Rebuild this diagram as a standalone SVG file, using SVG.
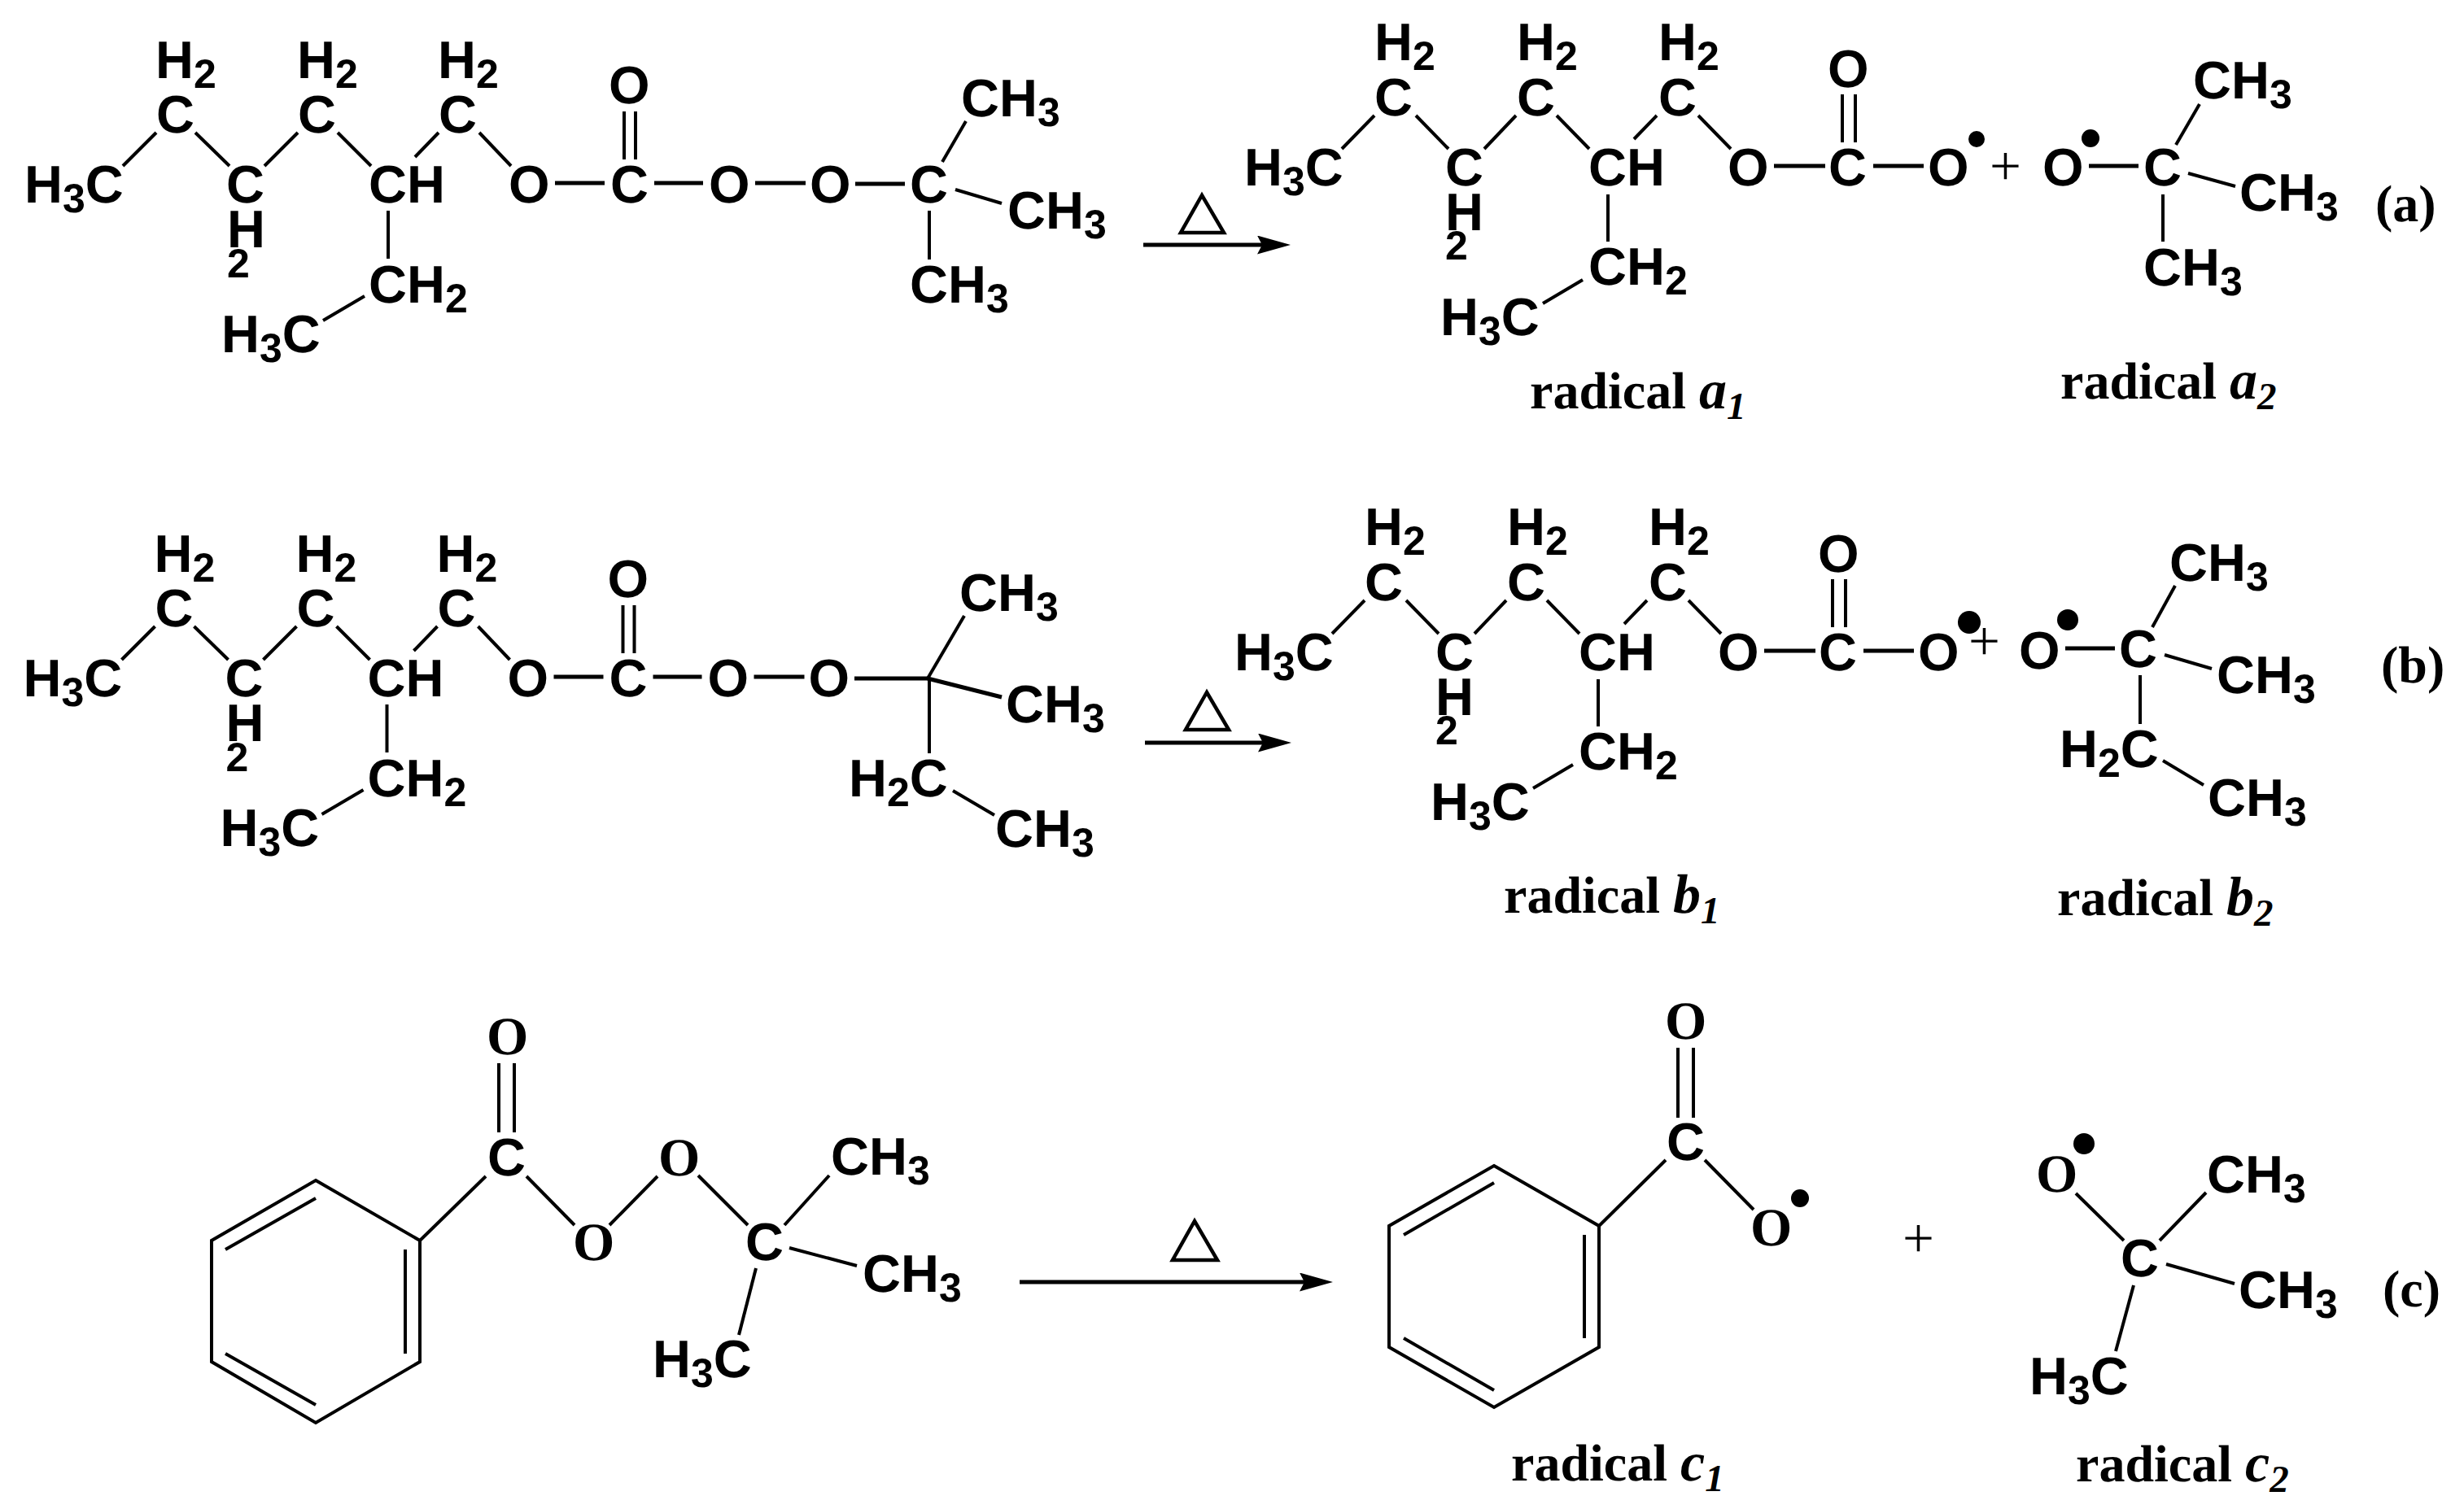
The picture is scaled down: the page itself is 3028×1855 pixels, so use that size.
<svg xmlns="http://www.w3.org/2000/svg" width="3028" height="1855" viewBox="0 0 3028 1855">
<style>
text{fill:#000;text-rendering:geometricPrecision}
.l{font:bold 65px "Liberation Sans",Arial,sans-serif}
.s{font-size:50px}
.o{font:bold 66px "Liberation Serif","Times New Roman",serif}
.r{font:bold 64px "Liberation Serif","Times New Roman",serif}
.i{font-style:italic;font-size:68px}
.n{font-style:italic;font-size:47px}
.p{font:69px "Liberation Serif","Times New Roman",serif}
.c{font:bold 64px "Liberation Serif","Times New Roman",serif}
line,polygon.ring{stroke:#000;stroke-width:4;fill:none}
line.t{stroke-width:5}
line.a{stroke-width:5;marker-end:url(#h)}
polygon.d{stroke:#000;stroke-width:4.5;fill:none}
circle{fill:#000}
</style>
<defs>
<marker id="h" markerUnits="userSpaceOnUse" viewBox="0 0 41 23" refX="6" refY="11.5" markerWidth="41" markerHeight="23" orient="auto"><path d="M0,0L41,11.5L0,23L6,11.5Z" fill="#000"/></marker>
</defs>
<rect width="3028" height="1855" fill="#fff"/>

<g id="connectors">
  <g id="bonds-a-reactant">
    <line x1="151" y1="204" x2="192" y2="163"/><line x1="240" y1="163" x2="282" y2="204"/><line x1="325" y1="204" x2="366" y2="163"/><line x1="415" y1="163" x2="456" y2="204"/><line x1="510" y1="193" x2="539" y2="163"/><line x1="589" y1="163" x2="628" y2="204"/>
    <line x1="477" y1="259" x2="477" y2="318"/><line x1="448" y1="364" x2="397" y2="394"/>
    <line class="t" x1="682" y1="225" x2="743" y2="225"/><line x1="767" y1="137" x2="767" y2="196"/><line x1="781" y1="137" x2="781" y2="196"/><line class="t" x1="804" y1="225" x2="864" y2="225"/><line class="t" x1="928" y1="225" x2="990" y2="225"/>
    <line class="t" x1="1051" y1="226" x2="1112" y2="226"/><line x1="1158" y1="199" x2="1187" y2="149"/><line x1="1174" y1="233" x2="1231" y2="250"/><line x1="1142" y1="259" x2="1142" y2="319"/>
  </g>
  <g id="bonds-b-reactant">
    <g transform="translate(-1.5 607)">
    <line x1="151" y1="204" x2="192" y2="163"/><line x1="240" y1="163" x2="282" y2="204"/><line x1="325" y1="204" x2="366" y2="163"/><line x1="415" y1="163" x2="456" y2="204"/><line x1="510" y1="193" x2="539" y2="163"/><line x1="589" y1="163" x2="628" y2="204"/>
    <line x1="477" y1="259" x2="477" y2="318"/><line x1="448" y1="364" x2="397" y2="394"/>
    <line class="t" x1="682" y1="225" x2="743" y2="225"/><line x1="767" y1="137" x2="767" y2="196"/><line x1="781" y1="137" x2="781" y2="196"/><line class="t" x1="804" y1="225" x2="864" y2="225"/><line class="t" x1="928" y1="225" x2="990" y2="225"/>
    </g>
    <line class="t" x1="1050" y1="834" x2="1141" y2="834"/><line x1="1140" y1="834" x2="1185" y2="757"/><line class="t" x1="1140" y1="834" x2="1231" y2="857"/><line x1="1142" y1="834" x2="1142" y2="926"/><line x1="1171" y1="972" x2="1222" y2="1002"/>
  </g>
  <g id="bonds-a1">
    <line x1="1649" y1="183" x2="1689" y2="142"/><line x1="1740" y1="142" x2="1780" y2="183"/><line x1="1824" y1="183" x2="1863" y2="142"/><line x1="1913" y1="142" x2="1953" y2="183"/><line x1="2008" y1="171" x2="2036" y2="142"/><line x1="2087" y1="142" x2="2127" y2="183"/>
    <line x1="1976" y1="239" x2="1976" y2="297"/><line x1="1945" y1="344" x2="1896" y2="373"/>
    <line class="t" x1="2180" y1="204" x2="2243" y2="204"/><line x1="2264" y1="116" x2="2264" y2="175"/><line x1="2280" y1="116" x2="2280" y2="175"/><line class="t" x1="2302" y1="204" x2="2364" y2="204"/>
  </g>
  <g id="bonds-a2">
    <line class="t" x1="2567" y1="204" x2="2628" y2="204"/><line x1="2674" y1="178" x2="2703" y2="128"/><line x1="2689" y1="213" x2="2747" y2="229"/><line x1="2658" y1="239" x2="2658" y2="297"/>
  </g>
  <g id="bonds-b1" transform="translate(-12 596)">
    <line x1="1649" y1="183" x2="1689" y2="142"/><line x1="1740" y1="142" x2="1780" y2="183"/><line x1="1824" y1="183" x2="1863" y2="142"/><line x1="1913" y1="142" x2="1953" y2="183"/><line x1="2008" y1="171" x2="2036" y2="142"/><line x1="2087" y1="142" x2="2127" y2="183"/>
    <line x1="1976" y1="239" x2="1976" y2="297"/><line x1="1945" y1="344" x2="1896" y2="373"/>
    <line class="t" x1="2180" y1="204" x2="2243" y2="204"/><line x1="2264" y1="116" x2="2264" y2="175"/><line x1="2280" y1="116" x2="2280" y2="175"/><line class="t" x1="2302" y1="204" x2="2364" y2="204"/>
  </g>
  <g id="bonds-b2">
    <line class="t" x1="2538" y1="797" x2="2599" y2="797"/><line x1="2645" y1="771" x2="2673" y2="720"/><line x1="2660" y1="805" x2="2718" y2="822"/><line x1="2630" y1="830" x2="2630" y2="890"/><line x1="2658" y1="935" x2="2708" y2="965"/>
  </g>
  <g id="bonds-c-reactant">
    <polygon class="ring" points="388,1451 516,1525 516,1674 388,1749 260,1674 260,1525"/>
    <line x1="498" y1="1536" x2="498" y2="1664"/><line x1="388" y1="1473" x2="277" y2="1536"/><line x1="277" y1="1664" x2="388" y2="1727"/>
    <line x1="516" y1="1525" x2="597" y2="1446"/><line x1="613" y1="1307" x2="613" y2="1392"/><line x1="632" y1="1307" x2="632" y2="1392"/>
    <line x1="647" y1="1446" x2="706" y2="1506"/><line x1="749" y1="1506" x2="808" y2="1446"/><line x1="858" y1="1445" x2="919" y2="1506"/>
    <line x1="964" y1="1506" x2="1019" y2="1445"/><line x1="970" y1="1534" x2="1053" y2="1556"/><line x1="929" y1="1559" x2="908" y2="1641"/>
  </g>
  <g id="bonds-c1">
    <polygon class="ring" points="1836,1433 1965,1507 1965,1656 1836,1730 1707,1656 1707,1507"/>
    <line x1="1947" y1="1518" x2="1947" y2="1645"/><line x1="1836" y1="1454" x2="1725" y2="1518"/><line x1="1725" y1="1645" x2="1836" y2="1709"/>
    <line x1="1965" y1="1507" x2="2047" y2="1426"/><line x1="2062" y1="1288" x2="2062" y2="1374"/><line x1="2081" y1="1288" x2="2081" y2="1374"/><line x1="2095" y1="1426" x2="2155" y2="1487"/>
  </g>
  <g id="bonds-c2">
    <line x1="2551" y1="1467" x2="2610" y2="1525"/><line x1="2654" y1="1525" x2="2711" y2="1466"/><line x1="2662" y1="1554" x2="2746" y2="1578"/><line x1="2622" y1="1580" x2="2600" y2="1661"/>
  </g>
  <g id="arrows">
    <line class="a" x1="1405" y1="301" x2="1551" y2="301"/><polygon class="d" points="1477,240 1451,286 1504,286"/>
    <line class="a" x1="1407" y1="913" x2="1552" y2="913"/><polygon class="d" points="1483,851 1457,897 1510,897"/>
    <line class="a" x1="1253" y1="1576" x2="1603" y2="1576"/><polygon class="d" points="1468,1501 1441,1549 1496,1549"/>
  </g>
</g>

<g id="reactant-a">
  <text class="l" x="191" y="96">H<tspan class="s" dy="12">2</tspan></text>
  <text class="l" x="365" y="96">H<tspan class="s" dy="12">2</tspan></text>
  <text class="l" x="538" y="96">H<tspan class="s" dy="12">2</tspan></text>
  <text class="l" x="192" y="163">C</text><text class="l" x="366" y="163">C</text><text class="l" x="539" y="163">C</text>
  <text class="l" x="30" y="249">H<tspan class="s" dy="12">3</tspan><tspan dy="-12">C</tspan></text>
  <text class="l" x="278" y="249">C</text><text class="l" x="279" y="304">H</text><text class="l s" x="279" y="341">2</text>
  <text class="l" x="453" y="249">CH</text>
  <text class="l" x="453" y="372">CH<tspan class="s" dy="12">2</tspan></text>
  <text class="l" x="272" y="433">H<tspan class="s" dy="12">3</tspan><tspan dy="-12">C</tspan></text>
  <text class="l" x="625" y="249">O</text><text class="l" x="750" y="249">C</text><text class="l" x="748" y="127">O</text><text class="l" x="871" y="249">O</text><text class="l" x="995" y="249">O</text>
  <text class="l" x="1118" y="249">C</text>
  <text class="l" x="1181" y="143">CH<tspan class="s" dy="12">3</tspan></text>
  <text class="l" x="1238" y="281">CH<tspan class="s" dy="12">3</tspan></text>
  <text class="l" x="1118" y="372">CH<tspan class="s" dy="12">3</tspan></text>
</g>

<g id="radical-a1">
  <text class="l" x="1689" y="74">H<tspan class="s" dy="12">2</tspan></text>
  <text class="l" x="1864" y="74">H<tspan class="s" dy="12">2</tspan></text>
  <text class="l" x="2038" y="74">H<tspan class="s" dy="12">2</tspan></text>
  <text class="l" x="1689" y="142">C</text><text class="l" x="1864" y="142">C</text><text class="l" x="2038" y="142">C</text>
  <text class="l" x="1529" y="228">H<tspan class="s" dy="12">3</tspan><tspan dy="-12">C</tspan></text>
  <text class="l" x="1776" y="228">C</text><text class="l" x="1776" y="283">H</text><text class="l s" x="1776" y="319">2</text>
  <text class="l" x="1952" y="228">CH</text>
  <text class="l" x="1952" y="350">CH<tspan class="s" dy="12">2</tspan></text>
  <text class="l" x="1770" y="412">H<tspan class="s" dy="12">3</tspan><tspan dy="-12">C</tspan></text>
  <text class="l" x="2123" y="228">O</text><text class="l" x="2247" y="228">C</text><text class="l" x="2246" y="107">O</text><text class="l" x="2369" y="228">O</text>
  <circle cx="2429" cy="171" r="10"/>
  <text class="r" x="1880" y="502">radical <tspan class="i">a</tspan><tspan class="n" dy="13">1</tspan></text>
</g>
<text id="plus-a" class="p" x="2445" y="227">+</text>
<g id="radical-a2">
  <text class="l" x="2510" y="228">O</text><circle cx="2569" cy="170" r="11"/>
  <text class="l" x="2634" y="228">C</text>
  <text class="l" x="2695" y="121">CH<tspan class="s" dy="12">3</tspan></text>
  <text class="l" x="2752" y="259">CH<tspan class="s" dy="12">3</tspan></text>
  <text class="l" x="2634" y="351">CH<tspan class="s" dy="12">3</tspan></text>
  <text class="r" x="2532" y="490">radical <tspan class="i">a</tspan><tspan class="n" dy="13">2</tspan></text>
</g>
<text id="label-a" class="c" x="2919" y="272">(a)</text>

<g id="reactant-b">
  <g transform="translate(-1.5 607)">
  <text class="l" x="191" y="96">H<tspan class="s" dy="12">2</tspan></text>
  <text class="l" x="365" y="96">H<tspan class="s" dy="12">2</tspan></text>
  <text class="l" x="538" y="96">H<tspan class="s" dy="12">2</tspan></text>
  <text class="l" x="192" y="163">C</text><text class="l" x="366" y="163">C</text><text class="l" x="539" y="163">C</text>
  <text class="l" x="30" y="249">H<tspan class="s" dy="12">3</tspan><tspan dy="-12">C</tspan></text>
  <text class="l" x="278" y="249">C</text><text class="l" x="279" y="304">H</text><text class="l s" x="279" y="341">2</text>
  <text class="l" x="453" y="249">CH</text>
  <text class="l" x="453" y="372">CH<tspan class="s" dy="12">2</tspan></text>
  <text class="l" x="272" y="433">H<tspan class="s" dy="12">3</tspan><tspan dy="-12">C</tspan></text>
  <text class="l" x="625" y="249">O</text><text class="l" x="750" y="249">C</text><text class="l" x="748" y="127">O</text><text class="l" x="871" y="249">O</text><text class="l" x="995" y="249">O</text>
  </g>
  <text class="l" x="1179" y="751">CH<tspan class="s" dy="12">3</tspan></text>
  <text class="l" x="1236" y="888">CH<tspan class="s" dy="12">3</tspan></text>
  <text class="l" x="1043" y="979">H<tspan class="s" dy="12">2</tspan><tspan dy="-12">C</tspan></text>
  <text class="l" x="1223" y="1041">CH<tspan class="s" dy="12">3</tspan></text>
</g>

<g id="radical-b1">
  <g transform="translate(-12 596)">
  <text class="l" x="1689" y="74">H<tspan class="s" dy="12">2</tspan></text>
  <text class="l" x="1864" y="74">H<tspan class="s" dy="12">2</tspan></text>
  <text class="l" x="2038" y="74">H<tspan class="s" dy="12">2</tspan></text>
  <text class="l" x="1689" y="142">C</text><text class="l" x="1864" y="142">C</text><text class="l" x="2038" y="142">C</text>
  <text class="l" x="1529" y="228">H<tspan class="s" dy="12">3</tspan><tspan dy="-12">C</tspan></text>
  <text class="l" x="1776" y="228">C</text><text class="l" x="1776" y="283">H</text><text class="l s" x="1776" y="319">2</text>
  <text class="l" x="1952" y="228">CH</text>
  <text class="l" x="1952" y="350">CH<tspan class="s" dy="12">2</tspan></text>
  <text class="l" x="1770" y="412">H<tspan class="s" dy="12">3</tspan><tspan dy="-12">C</tspan></text>
  <text class="l" x="2123" y="228">O</text><text class="l" x="2247" y="228">C</text><text class="l" x="2246" y="107">O</text><text class="l" x="2369" y="228">O</text>
  </g>
  <circle cx="2420" cy="765" r="14"/>
  <text class="r" x="1848" y="1122">radical <tspan class="i">b</tspan><tspan class="n" dy="13">1</tspan></text>
</g>
<text id="plus-b" class="p" x="2419" y="811">+</text>
<g id="radical-b2">
  <text class="l" x="2481" y="822">O</text><circle cx="2541" cy="762" r="13"/>
  <text class="l" x="2604" y="820">C</text>
  <text class="l" x="2666" y="714">CH<tspan class="s" dy="12">3</tspan></text>
  <text class="l" x="2724" y="852">CH<tspan class="s" dy="12">3</tspan></text>
  <text class="l" x="2531" y="943">H<tspan class="s" dy="12">2</tspan><tspan dy="-12">C</tspan></text>
  <text class="l" x="2713" y="1003">CH<tspan class="s" dy="12">3</tspan></text>
  <text class="r" x="2528" y="1125">radical <tspan class="i">b</tspan><tspan class="n" dy="13">2</tspan></text>
</g>
<text id="label-b" class="c" x="2926" y="839">(b)</text>

<g id="reactant-c">
  <text class="o" x="598" y="1296">O</text>
  <text class="l" x="599" y="1445">C</text>
  <text class="o" x="704" y="1549">O</text>
  <text class="o" x="809" y="1445">O</text>
  <text class="l" x="916" y="1549">C</text>
  <text class="l" x="1021" y="1444">CH<tspan class="s" dy="12">3</tspan></text>
  <text class="l" x="1060" y="1588">CH<tspan class="s" dy="12">3</tspan></text>
  <text class="l" x="802" y="1693">H<tspan class="s" dy="12">3</tspan><tspan dy="-12">C</tspan></text>
</g>

<g id="radical-c1">
  <text class="o" x="2046" y="1277">O</text>
  <text class="l" x="2048" y="1426">C</text>
  <text class="o" x="2151" y="1531">O</text><circle cx="2212" cy="1473" r="11"/>
  <text class="r" x="1857" y="1820">radical <tspan class="i">c</tspan><tspan class="n" dy="13">1</tspan></text>
</g>
<text id="plus-c" class="p" x="2338" y="1545">+</text>
<g id="radical-c2">
  <text class="o" x="2502" y="1465">O</text><circle cx="2561" cy="1406" r="13"/>
  <text class="l" x="2606" y="1569">C</text>
  <text class="l" x="2712" y="1466">CH<tspan class="s" dy="12">3</tspan></text>
  <text class="l" x="2751" y="1608">CH<tspan class="s" dy="12">3</tspan></text>
  <text class="l" x="2494" y="1714">H<tspan class="s" dy="12">3</tspan><tspan dy="-12">C</tspan></text>
  <text class="r" x="2551" y="1821">radical <tspan class="i">c</tspan><tspan class="n" dy="13">2</tspan></text>
</g>
<text id="label-c" class="c" x="2928" y="1606">(c)</text>
</svg>
